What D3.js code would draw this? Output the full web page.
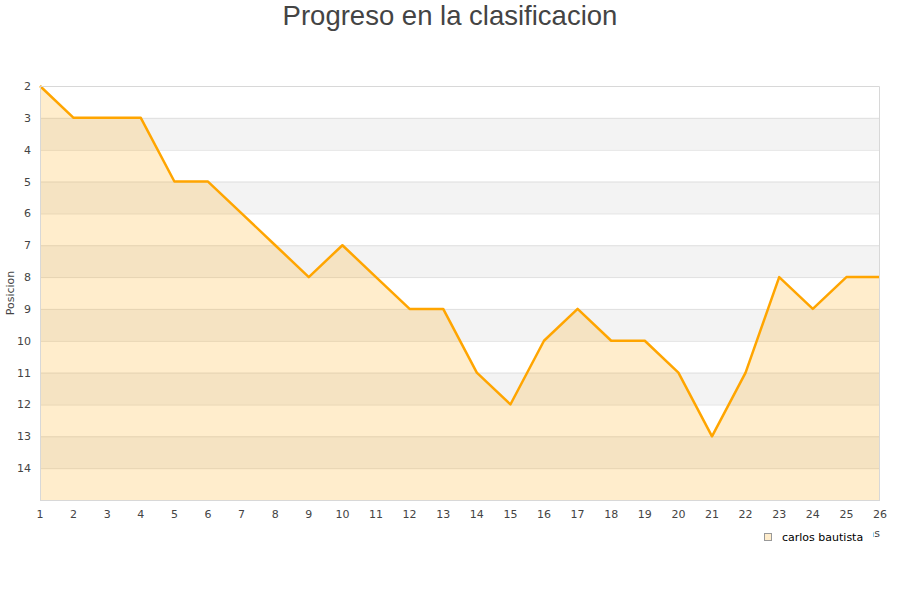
<!DOCTYPE html>
<html><head><meta charset="utf-8">
<script src="https://cdn.jsdelivr.net/npm/d3@7"></script>
<style>body{margin:0;background:#fff}</style>
</head><body>
<svg id="c" width="900" height="600"></svg>
<script>
const jornadas = [1,2,3,4,5,6,7,8,9,10,11,12,13,14,15,16,17,18,19,20,21,22,23,24,25,26];
const posicion = [2,3,3,3,5,5,6,7,8,7,8,9,9,11,12,10,9,10,10,11,13,11,8,9,8,8];
const yTicks = [2,3,4,5,6,7,8,9,10,11,12,13,14];
const seriesName = "carlos bautista";
const title = "Progreso en la clasificacion";

const svg = d3.select("#c");
const L=40,R=880,T=86,B=500;
const x = d3.scaleLinear().domain([1,26]).range([L,R]);
const y = d3.scaleLinear().domain([2,15]).range([T,B]);

// alternating bands
const bands = d3.range(2,15);
svg.selectAll("rect.band").data(bands).enter().append("rect")
  .attr("x",L).attr("width",R-L)
  .attr("y",d=>y(d)).attr("height",d=>y(d+1)-y(d))
  .attr("fill",d=>d%2===1?"#f3f3f3":"#ffffff");
// grid
svg.selectAll("line.grid").data(d3.range(3,15)).enter().append("line")
  .attr("x1",L).attr("x2",R).attr("y1",d=>y(d)+0.5).attr("y2",d=>y(d)+0.5)
  .attr("stroke","#e0e0e0");

// area
const area = d3.area().x((d,i)=>x(jornadas[i])).y0(B).y1(d=>y(d));
svg.append("path").datum(posicion).attr("d",area).attr("fill","rgba(255,165,0,0.2)");
const line = d3.line().x((d,i)=>x(jornadas[i])).y(d=>y(d));
svg.append("path").datum(posicion).attr("d",line).attr("fill","none")
  .attr("stroke","#FFA500").attr("stroke-width",2.5).attr("stroke-linejoin","round");

// border
svg.append("path").attr("d",`M${L+0.5},${B}V${T+0.5}H${R-0.5}V${B}`).attr("fill","none").attr("stroke","#d8d8d8");
svg.append("line").attr("x1",L).attr("x2",R).attr("y1",B+0.5).attr("y2",B+0.5).attr("stroke","#d8d8d8");

// axes labels
svg.selectAll("text.xt").data(jornadas).enter().append("text")
  .attr("x",d=>x(d)).attr("y",518).attr("text-anchor","middle")
  .attr("font-family","DejaVu Sans").attr("font-size",11).attr("fill","#444").text(d=>d);
svg.selectAll("text.yt").data(yTicks).enter().append("text")
  .attr("x",31).attr("y",d=>y(d)+4).attr("text-anchor","end")
  .attr("font-family","DejaVu Sans").attr("font-size",11).attr("fill","#444").text(d=>d);

svg.append("text").attr("transform","translate(14,293) rotate(-90)").attr("text-anchor","middle")
  .attr("font-family","DejaVu Sans").attr("font-size",11).attr("fill","#444").text("Posicion");
svg.append("text").attr("x",880).attr("y",537).attr("text-anchor","end")
  .attr("font-family","DejaVu Sans").attr("font-size",11).attr("fill","#444").text("Jornadas");

// title
svg.append("text").attr("x",450).attr("y",25).attr("text-anchor","middle")
  .attr("font-family","Liberation Sans, Arial").attr("font-size",27.5).attr("fill","#444").text(title);

// legend
const lg = svg.append("g");
lg.append("rect").attr("x",755).attr("y",526).attr("width",118).attr("height",22).attr("fill","#fff");
lg.append("rect").attr("x",764.5).attr("y",533.5).attr("width",7).attr("height",7)
  .attr("fill","#ffedcc").attr("stroke","#999");
lg.append("text").attr("x",782).attr("y",541).attr("font-family","DejaVu Sans").attr("font-size",11)
  .attr("fill","#000").text(seriesName);
</script>
</body></html>
